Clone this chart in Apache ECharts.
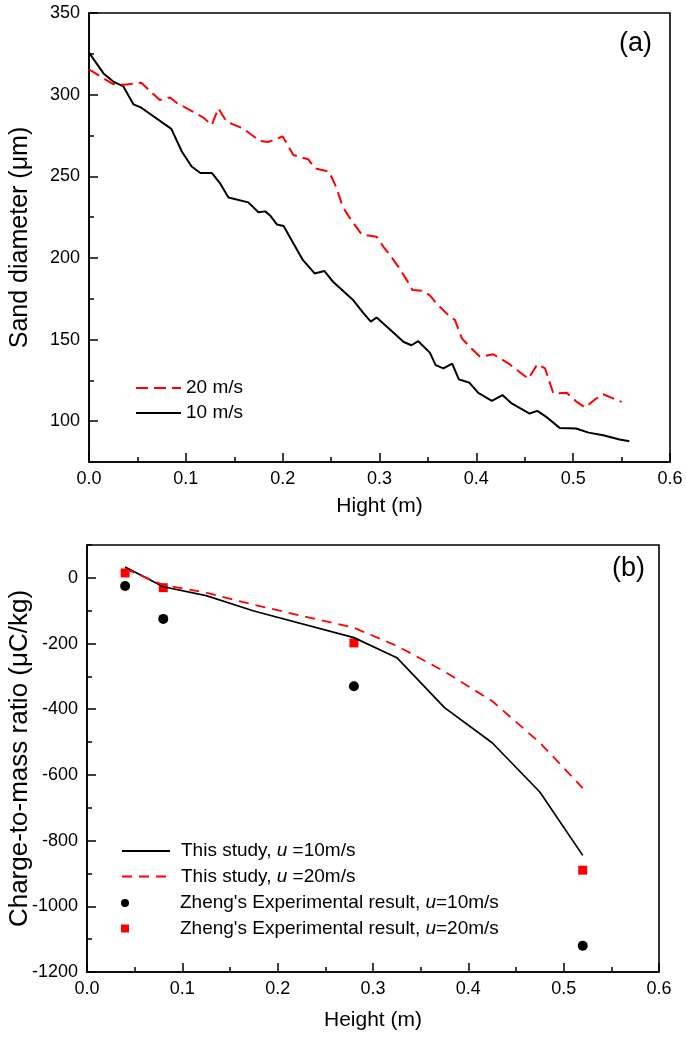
<!DOCTYPE html>
<html><head><meta charset="utf-8">
<script src="https://cdn.jsdelivr.net/npm/echarts@6/dist/echarts.min.js"></script>
<style>html,body{margin:0;padding:0;background:#fff}#c{width:686px;height:1041px}</style>
</head><body><div id="c"></div>
<script>
const FONT = '"Liberation Sans", Arial, Helvetica, sans-serif';

// ---- Panel (a): sand diameter vs height ----
const heightA10 = [0, 0.015, 0.025, 0.0355, 0.046, 0.054, 0.085, 0.096, 0.106, 0.115, 0.127, 0.135, 0.144, 0.1645, 0.175, 0.182, 0.187, 0.194, 0.201, 0.211, 0.221, 0.233, 0.243, 0.252, 0.273, 0.283, 0.291, 0.297, 0.312, 0.325, 0.333, 0.34, 0.352, 0.358, 0.366, 0.375, 0.382, 0.393, 0.402, 0.416, 0.427, 0.4365, 0.455, 0.463, 0.473, 0.486, 0.503, 0.516, 0.531, 0.548, 0.558];
const diamA10   = [325.7, 313, 308, 305, 294, 292, 279, 265, 256, 252, 252, 246, 237, 234, 228, 228.5, 226, 220.5, 219.5, 209, 198.6, 190.5, 192, 185.4, 174, 166.5, 161, 163.5, 155.5, 148.5, 146.5, 149, 142, 134.3, 132.3, 135.3, 125.6, 123.5, 117.3, 112.4, 116, 110.9, 104.7, 106.3, 102.3, 95.9, 95.5, 93, 91.4, 88.8, 87.7];
const heightA20 = [0, 0.015, 0.025, 0.036, 0.054, 0.073, 0.0836, 0.0905, 0.1077, 0.118, 0.1267, 0.1336, 0.1422, 0.159, 0.1766, 0.185, 0.2, 0.211, 0.2265, 0.2334, 0.248, 0.2558, 0.262, 0.2696, 0.2816, 0.297, 0.304, 0.311, 0.3195, 0.33, 0.334, 0.345, 0.352, 0.359, 0.371, 0.378, 0.385, 0.395, 0.404, 0.4175, 0.433, 0.445, 0.4537, 0.463, 0.471, 0.4795, 0.4933, 0.5037, 0.5122, 0.5225, 0.531, 0.55];
const diamA20   = [315.5, 310, 306.5, 306, 307.3, 296.7, 298.3, 295, 289.5, 286, 281.4, 291.6, 283.4, 279.3, 271.6, 271, 274.4, 263, 260.4, 254.8, 252.8, 242.6, 231.3, 224.2, 214.4, 213, 206.8, 201.7, 194.5, 184.7, 180.3, 179.8, 177, 172, 165, 161.9, 150.7, 144.5, 139.4, 141, 135.4, 130, 126, 134.9, 132.3, 117, 117.4, 111.8, 108.4, 113.3, 116.5, 111.8];
const yTicksA = [100, 150, 200, 250, 300, 350];

// ---- Panel (b): charge-to-mass ratio vs height ----
const heightB  = [0.04, 0.08, 0.125, 0.175, 0.28, 0.325, 0.375, 0.425, 0.475, 0.52];
const ratioB10 = [33, -27, -54, -101, -182, -243, -395, -502, -652, -845];
const ratioB20 = [28, -22, -45, -82, -152, -207, -285, -375, -502, -640];
const expHeight = [0.04, 0.08, 0.28, 0.52];
const exp10 = [-25, -125, -330, -1120];
const exp20 = [15, -30, -198, -890];
const yTicksB = [-1200, -1000, -800, -600, -400, -200, 0];

const zip = (xs, ys) => xs.map((x, i) => [x, ys[i]]);

const NAME10 = 'This study, u =10m/s';
const NAME20 = 'This study, u =20m/s';
const EXP10 = "Zheng's Experimental result, u=10m/s";
const EXP20 = "Zheng's Experimental result, u=20m/s";
const legendRich = {
  n: { fontFamily: FONT, fontSize: 19, color: '#000' },
  i: { fontFamily: FONT, fontSize: 19, color: '#000', fontStyle: 'italic' }
};
const richName = {
  [NAME10]: '{n|This study, }{i|u}{n| =10m/s}',
  [NAME20]: '{n|This study, }{i|u}{n| =20m/s}',
  [EXP10]: "{n|Zheng's Experimental result, }{i|u}{n|=10m/s}",
  [EXP20]: "{n|Zheng's Experimental result, }{i|u}{n|=20m/s}"
};

const tickLbl = { fontFamily: FONT, fontSize: 18, color: '#000' };
const nameTxt = { fontFamily: FONT, fontSize: 21, color: '#000' };

function xAx(grid, name, gap) {
  return {
    type: 'value', gridIndex: grid, min: 0, max: 0.6, interval: 0.1,
    name: name, nameLocation: 'middle', nameGap: gap, nameTextStyle: nameTxt, nameMoveOverlap: false,
    axisLine: { show: true, onZero: false, lineStyle: { color: '#000', width: 1.6 } },
    axisTick: { show: true, inside: true, length: 9, lineStyle: { color: '#000', width: 1.5 } },
    minorTick: { show: true, splitNumber: 2, length: 5, lineStyle: { color: '#000', width: 1.5 } },
    axisLabel: Object.assign({ margin: 8, formatter: v => v.toFixed(1) }, tickLbl),
    splitLine: { show: false }, minorSplitLine: { show: false }
  };
}
function yMain(grid, min, max, interval, ticks, name, gap, nameSize) {
  return {
    type: 'value', gridIndex: grid, position: 'left', min: min, max: max, interval: interval,
    name: name, nameLocation: 'middle', nameGap: gap, nameMoveOverlap: false,
    nameTextStyle: Object.assign({}, nameTxt, { fontSize: nameSize }),
    axisLine: { show: true, onZero: false, lineStyle: { color: '#000', width: 1.6 } },
    axisTick: { show: true, inside: true, length: 9, customValues: ticks, lineStyle: { color: '#000', width: 1.5 } },
    axisLabel: Object.assign({ margin: 9, customValues: ticks, formatter: v => String(v) }, tickLbl),
    splitLine: { show: false }
  };
}
function yMinor(grid, min, max, interval) {
  return {
    type: 'value', gridIndex: grid, position: 'left', offset: 0, min: min, max: max, interval: interval,
    axisLine: { show: false, onZero: false },
    axisTick: { show: true, inside: true, length: 5, lineStyle: { color: '#000', width: 1.5 } },
    axisLabel: { show: false }, splitLine: { show: false }
  };
}

const chart = echarts.init(document.getElementById('c'), null, { renderer: 'canvas' });
chart.setOption({
  backgroundColor: '#fff',
  animation: false,
  textStyle: { fontFamily: FONT },
  grid: [
    { left: 89, top: 13, width: 581, height: 449, show: true, borderColor: '#000', borderWidth: 1.6, backgroundColor: 'transparent', containLabel: false, outerBoundsMode: 'none' },
    { left: 87, top: 545, width: 572, height: 427, show: true, borderColor: '#000', borderWidth: 1.6, backgroundColor: 'transparent', containLabel: false, outerBoundsMode: 'none' }
  ],
  xAxis: [xAx(0, 'Hight (m)', 34), xAx(1, 'Height (m)', 38)],
  yAxis: [
    yMain(0, 75, 350, 25, yTicksA, 'Sand diameter (μm)', 56, 25),
    yMinor(0, 75, 350, 25),
    yMain(1, -1200, 100, 100, yTicksB, 'Charge-to-mass ratio (μC/kg)', 54, 26),
    yMinor(1, -1200, 100, 100)
  ],
  legend: [
    {
      data: ['20 m/s', '10 m/s'], orient: 'vertical', left: 135, top: 378, padding: 0,
      itemWidth: 45, itemHeight: 14, itemGap: 5,
      itemStyle: { opacity: 0 },
      textStyle: { fontFamily: FONT, fontSize: 19, color: '#000', lineHeight: 20 }
    },
    {
      data: [NAME10, NAME20], orient: 'vertical', left: 121, top: 841, padding: 0,
      itemWidth: 48, itemHeight: 10, itemGap: 5.5,
      itemStyle: { opacity: 0 },
      formatter: n => richName[n],
      textStyle: { fontFamily: FONT, fontSize: 19, color: '#000', lineHeight: 20, padding: [0, 0, 0, 6], rich: legendRich }
    },
    {
      data: [EXP10, EXP20], orient: 'vertical', left: 121, top: 893, padding: 0,
      itemWidth: 8, itemHeight: 8, itemGap: 5.5,
      formatter: n => richName[n],
      textStyle: { fontFamily: FONT, fontSize: 19, color: '#000', lineHeight: 20, padding: [0, 0, 0, 46], rich: legendRich }
    }
  ],
  graphic: [
    { type: 'text', left: 619, top: 30, style: { text: '(a)', fontFamily: FONT, fontSize: 27, fill: '#000' } },
    { type: 'text', left: 612, top: 555, style: { text: '(b)', fontFamily: FONT, fontSize: 27, fill: '#000' } }
  ],
  series: [
    { type: 'line', name: '10 m/s', xAxisIndex: 0, yAxisIndex: 0, data: zip(heightA10, diamA10), symbol: 'none',
      itemStyle: { color: '#000' }, lineStyle: { color: '#000', width: 2 } },
    { type: 'line', name: '20 m/s', xAxisIndex: 0, yAxisIndex: 0, data: zip(heightA20, diamA20), symbol: 'none',
      itemStyle: { color: '#ff0000' }, lineStyle: { color: '#ff0000', width: 2, type: [12, 6] } },
    { type: 'line', name: NAME10, xAxisIndex: 1, yAxisIndex: 2, data: zip(heightB, ratioB10), symbol: 'none',
      itemStyle: { color: '#000' }, lineStyle: { color: '#000', width: 1.7 } },
    { type: 'line', name: NAME20, xAxisIndex: 1, yAxisIndex: 2, data: zip(heightB, ratioB20), symbol: 'none',
      itemStyle: { color: '#ff0000' }, lineStyle: { color: '#ff0000', width: 1.8, type: [10, 7] } },
    { type: 'scatter', name: EXP10, xAxisIndex: 1, yAxisIndex: 2, data: zip(expHeight, exp10), symbol: 'circle', symbolSize: 10,
      itemStyle: { color: '#000', opacity: 1 } },
    { type: 'scatter', name: EXP20, xAxisIndex: 1, yAxisIndex: 2, data: zip(expHeight, exp20), symbol: 'rect', symbolSize: 9,
      itemStyle: { color: '#ff0000', opacity: 1 } }
  ]
});
</script></body></html>
